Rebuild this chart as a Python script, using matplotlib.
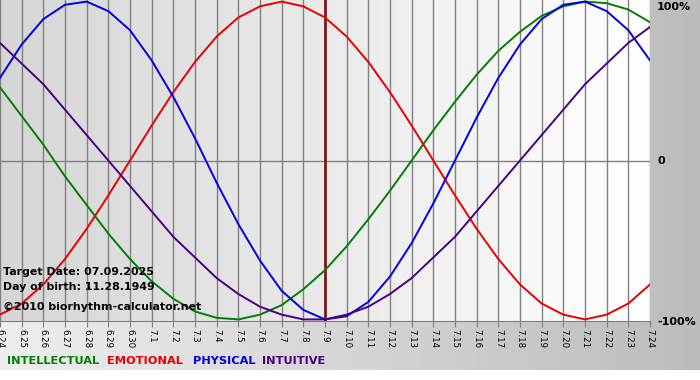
import numpy as np
import matplotlib
matplotlib.use('Agg')
import matplotlib.pyplot as plt
from matplotlib.colors import LinearSegmentedColormap

# day labels along the bottom
days = ['6.24', '6.25', '6.26', '6.27', '6.28', '6.29', '6.30',
        '7.1', '7.2', '7.3', '7.4', '7.5', '7.6', '7.7', '7.8', '7.9',
        '7.10', '7.11', '7.12', '7.13', '7.14', '7.15', '7.16', '7.17',
        '7.18', '7.19', '7.20', '7.21', '7.22', '7.23', '7.24']
target_day = '7.9'

# cycle values, one per day (-1 .. 1)
physical = [0.52, 0.73, 0.89, 0.98, 1.00, 0.94, 0.82, 0.63, 0.40, 0.14,
            -0.14, -0.40, -0.63, -0.82, -0.94, -1.00, -0.98, -0.89, -0.73, -0.52,
            -0.27, 0.00, 0.27, 0.52, 0.73, 0.89, 0.98, 1.00, 0.94, 0.82, 0.63]
emotional = [-0.97, -0.90, -0.78, -0.62, -0.43, -0.22, 0.00, 0.22, 0.43, 0.62,
             0.78, 0.90, 0.97, 1.00, 0.97, 0.90, 0.78, 0.62, 0.43, 0.22,
             0.00, -0.22, -0.43, -0.62, -0.78, -0.90, -0.97, -1.00, -0.97, -0.90, -0.78]
intellectual = [0.46, 0.28, 0.10, -0.10, -0.28, -0.46, -0.62, -0.76, -0.87, -0.95,
                -0.99, -1.00, -0.97, -0.91, -0.81, -0.69, -0.54, -0.37, -0.19, 0.00,
                0.19, 0.37, 0.54, 0.69, 0.81, 0.91, 0.97, 1.00, 0.99, 0.95, 0.87]
intuitive = [0.74, 0.61, 0.48, 0.32, 0.16, 0.00, -0.16, -0.32, -0.48, -0.61,
             -0.74, -0.84, -0.92, -0.97, -1.00, -1.00, -0.97, -0.92, -0.84, -0.74,
             -0.61, -0.48, -0.32, -0.16, 0.00, 0.16, 0.32, 0.48, 0.61, 0.74, 0.84]

series = [('INTELLECTUAL', intellectual, '#008000'),
          ('EMOTIONAL', emotional, '#e80000'),
          ('PHYSICAL', physical, '#0000e0'),
          ('INTUITIVE', intuitive, '#4b0082')]

W, H = 700, 380
fig = plt.figure(figsize=(W / 100, H / 100), dpi=100, facecolor='white')

# outer grey gradient (white strip at the very bottom)
bg = fig.add_axes([0, 0, 1, 1], zorder=0)
grad = np.linspace(0, 1, 256).reshape(1, -1)
bg.imshow(grad, cmap=LinearSegmentedColormap.from_list('outer', ['#eeeeee', '#bcbcbc']),
          aspect='auto', extent=[0, 1, 10 / H, 1])
bg.set_xlim(0, 1)
bg.set_ylim(0, 1)
bg.axis('off')

ax = fig.add_axes([0, 59 / H, 650 / W, 321 / H], zorder=1)
x = np.arange(len(days))
ax.imshow(grad, cmap=LinearSegmentedColormap.from_list('inner', ['#d6d6d6', '#ffffff']),
          aspect='auto', extent=[0, len(days) - 1, -1.01, 1.01], zorder=0)
for xi in x:
    ax.axvline(xi, color='#808080', lw=1, zorder=1)
ax.axhline(0, color='#808080', lw=1, zorder=1)
ax.axvline(days.index(target_day), color='#7a1a1a', lw=2, zorder=2)

for name, vals, col in series:
    ax.plot(x, vals, color=col, lw=1.4, zorder=3)

ax.set_xlim(0, len(days) - 1)
ax.set_ylim(-1.01, 1.01)
ax.set_yticks([])
ax.set_xticks(x)
ax.set_xticklabels(days, rotation=-90, fontsize=6.2)
ax.tick_params(axis='x', length=4, color='#808080', pad=2)
for s in ['top', 'left', 'right']:
    ax.spines[s].set_visible(False)
ax.spines['bottom'].set_color('#808080')

# percentage labels on the right
for lab, py in [('100%', 7), ('0', 161), ('-100%', 322)]:
    fig.text(657 / W, 1 - py / H, lab, fontsize=8, fontweight='bold', va='center', ha='left')

# info text inside the plot
info = ['Target Date: 07.09.2025', 'Day of birth: 11.28.1949',
        '\u00a92010 biorhythm-calculator.net']
for line, py in zip(info, [272, 287, 307]):
    ax.text(0.004, 1 - py / 321, line, transform=ax.transAxes,
            fontsize=7.9, fontweight='bold', va='center', zorder=5)

# colored legend words at the bottom
for (name, vals, col), px in zip(series, [7, 107, 193, 262]):
    fig.text(px / W, 1 - 361 / H, name, color=col, fontsize=8.2, fontweight='bold', va='center')

fig.savefig('out.png', dpi=100)
